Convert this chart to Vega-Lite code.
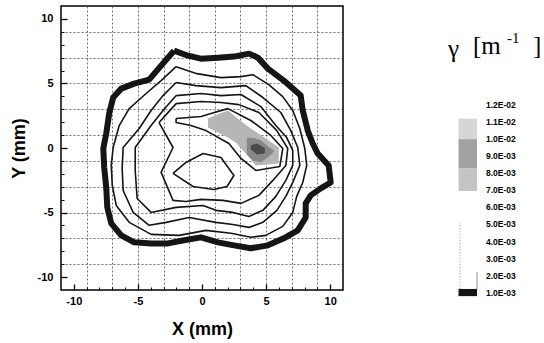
{
  "$schema": "https://vega.github.io/schema/vega-lite/v6.json",
  "background": "white",
  "padding": {"left": 9, "top": 5, "right": 0, "bottom": 0},
  "spacing": 102,
  "config": {"view": {"stroke": null}, "font": "Liberation Sans"},
  "resolve": {"scale": {"fill": "independent"}},
  "datasets": {
    "band": [
      {"i":0,"x":-2.18,"y":7.54},{"i":1,"x":-1.09,"y":7.15},{"i":2,"x":-0.08,"y":6.92},{"i":3,"x":1.25,"y":7.0},{"i":4,"x":2.49,"y":7.08},{"i":5,"x":3.66,"y":7.31},{"i":6,"x":4.36,"y":7.0},{"i":7,"x":5.14,"y":6.15},{"i":8,"x":6.38,"y":5.22},{"i":9,"x":7.7,"y":4.06},{"i":10,"x":7.86,"y":2.9},{"i":11,"x":8.25,"y":1.35},{"i":12,"x":8.64,"y":0.35},{"i":13,"x":9.03,"y":-0.43},{"i":14,"x":9.88,"y":-1.35},{"i":15,"x":10.04,"y":-2.67},{"i":16,"x":9.26,"y":-3.13},{"i":17,"x":8.48,"y":-3.67},{"i":18,"x":8.09,"y":-4.29},{"i":19,"x":8.09,"y":-5.38},{"i":20,"x":7.47,"y":-6.38},{"i":21,"x":6.38,"y":-7.0},{"i":22,"x":5.14,"y":-7.54},{"i":23,"x":3.81,"y":-7.77},{"i":24,"x":2.49,"y":-7.54},{"i":25,"x":1.25,"y":-7.31},{"i":26,"x":-0.08,"y":-6.92},{"i":27,"x":-1.4,"y":-7.15},{"i":28,"x":-2.65,"y":-7.39},{"i":29,"x":-3.97,"y":-7.39},{"i":30,"x":-5.29,"y":-7.31},{"i":31,"x":-6.3,"y":-6.77},{"i":32,"x":-7.08,"y":-5.84},{"i":33,"x":-7.39,"y":-4.6},{"i":34,"x":-7.47,"y":-3.05},{"i":35,"x":-7.63,"y":-1.51},{"i":36,"x":-7.7,"y":-0.04},{"i":37,"x":-7.47,"y":1.12},{"i":38,"x":-7.24,"y":2.67},{"i":39,"x":-6.93,"y":3.91},{"i":40,"x":-6.3,"y":4.6},{"i":41,"x":-5.29,"y":4.99},{"i":42,"x":-4.12,"y":5.3},{"i":43,"x":-3.19,"y":6.38},{"i":44,"x":-2.18,"y":7.54}
    ],
    "rings": [
      {"c":"r2","i":0,"x":-2.02,"y":6.3},{"c":"r2","i":1,"x":-0.39,"y":5.76},{"c":"r2","i":2,"x":1.48,"y":5.45},{"c":"r2","i":3,"x":3.04,"y":5.53},{"c":"r2","i":4,"x":3.97,"y":5.68},{"c":"r2","i":5,"x":5.21,"y":4.91},{"c":"r2","i":6,"x":6.3,"y":3.98},{"c":"r2","i":7,"x":7.08,"y":2.9},{"c":"r2","i":8,"x":7.63,"y":1.51},{"c":"r2","i":9,"x":8.02,"y":-0.04},{"c":"r2","i":10,"x":8.17,"y":-1.35},{"c":"r2","i":11,"x":7.86,"y":-2.67},{"c":"r2","i":12,"x":7.39,"y":-3.75},{"c":"r2","i":13,"x":7.08,"y":-4.99},{"c":"r2","i":14,"x":6.3,"y":-6.07},{"c":"r2","i":15,"x":4.98,"y":-6.77},{"c":"r2","i":16,"x":3.81,"y":-6.92},{"c":"r2","i":17,"x":2.26,"y":-6.61},{"c":"r2","i":18,"x":0.31,"y":-6.38},{"c":"r2","i":19,"x":-1.79,"y":-6.77},{"c":"r2","i":20,"x":-3.97,"y":-6.69},{"c":"r2","i":21,"x":-5.68,"y":-5.76},{"c":"r2","i":22,"x":-6.69,"y":-4.45},{"c":"r2","i":23,"x":-7.0,"y":-2.9},{"c":"r2","i":24,"x":-7.08,"y":-1.35},{"c":"r2","i":25,"x":-6.93,"y":0.04},{"c":"r2","i":26,"x":-6.46,"y":1.74},{"c":"r2","i":27,"x":-5.68,"y":3.05},{"c":"r2","i":28,"x":-4.36,"y":4.22},{"c":"r2","i":29,"x":-3.19,"y":5.22},{"c":"r2","i":30,"x":-2.02,"y":6.3},
      {"c":"r3","i":0,"x":-2.02,"y":5.07},{"c":"r3","i":1,"x":-0.47,"y":4.83},{"c":"r3","i":2,"x":1.48,"y":4.68},{"c":"r3","i":3,"x":3.42,"y":4.83},{"c":"r3","i":4,"x":4.75,"y":3.91},{"c":"r3","i":5,"x":6.15,"y":2.75},{"c":"r3","i":6,"x":6.93,"y":1.35},{"c":"r3","i":7,"x":7.47,"y":0.04},{"c":"r3","i":8,"x":7.63,"y":-1.35},{"c":"r3","i":9,"x":7.08,"y":-2.67},{"c":"r3","i":10,"x":6.54,"y":-3.75},{"c":"r3","i":11,"x":5.84,"y":-4.83},{"c":"r3","i":12,"x":4.75,"y":-5.76},{"c":"r3","i":13,"x":3.66,"y":-6.15},{"c":"r3","i":14,"x":2.41,"y":-5.92},{"c":"r3","i":15,"x":1.09,"y":-5.76},{"c":"r3","i":16,"x":-1.01,"y":-5.38},{"c":"r3","i":17,"x":-2.8,"y":-5.76},{"c":"r3","i":18,"x":-4.12,"y":-5.99},{"c":"r3","i":19,"x":-5.37,"y":-4.99},{"c":"r3","i":20,"x":-6.15,"y":-3.29},{"c":"r3","i":21,"x":-6.23,"y":-1.59},{"c":"r3","i":22,"x":-6.15,"y":0.04},{"c":"r3","i":23,"x":-4.9,"y":1.51},{"c":"r3","i":24,"x":-3.97,"y":2.9},{"c":"r3","i":25,"x":-3.04,"y":4.06},{"c":"r3","i":26,"x":-2.02,"y":5.07},
      {"c":"r4","i":0,"x":-2.02,"y":4.06},{"c":"r4","i":1,"x":-0.08,"y":4.22},{"c":"r4","i":2,"x":1.48,"y":4.06},{"c":"r4","i":3,"x":3.04,"y":4.14},{"c":"r4","i":4,"x":4.59,"y":3.21},{"c":"r4","i":5,"x":5.76,"y":1.74},{"c":"r4","i":6,"x":6.61,"y":0.81},{"c":"r4","i":7,"x":7.08,"y":-0.19},{"c":"r4","i":8,"x":7.08,"y":-1.35},{"c":"r4","i":9,"x":6.54,"y":-2.51},{"c":"r4","i":10,"x":5.76,"y":-3.75},{"c":"r4","i":11,"x":4.75,"y":-4.83},{"c":"r4","i":12,"x":3.66,"y":-5.3},{"c":"r4","i":13,"x":2.41,"y":-4.99},{"c":"r4","i":14,"x":1.09,"y":-4.83},{"c":"r4","i":15,"x":0.08,"y":-4.45},{"c":"r4","i":16,"x":-2.02,"y":-4.6},{"c":"r4","i":17,"x":-3.97,"y":-4.99},{"c":"r4","i":18,"x":-5.06,"y":-3.91},{"c":"r4","i":19,"x":-5.21,"y":-1.74},{"c":"r4","i":20,"x":-5.21,"y":0.04},{"c":"r4","i":21,"x":-3.97,"y":1.74},{"c":"r4","i":22,"x":-3.04,"y":2.9},{"c":"r4","i":23,"x":-2.02,"y":4.06},
      {"c":"r5","i":0,"x":-3.35,"y":1.97},{"c":"r5","i":1,"x":-2.02,"y":3.44},{"c":"r5","i":2,"x":-0.08,"y":3.6},{"c":"r5","i":3,"x":1.48,"y":3.52},{"c":"r5","i":4,"x":2.88,"y":3.36},{"c":"r5","i":5,"x":4.44,"y":2.75},{"c":"r5","i":6,"x":5.84,"y":1.35},{"c":"r5","i":7,"x":6.69,"y":-0.04},{"c":"r5","i":8,"x":6.54,"y":-1.35},{"c":"r5","i":9,"x":5.53,"y":-2.51},{"c":"r5","i":10,"x":4.44,"y":-3.67},{"c":"r5","i":11,"x":3.04,"y":-4.29},{"c":"r5","i":12,"x":1.63,"y":-4.06},{"c":"r5","i":13,"x":-0.08,"y":-3.98},{"c":"r5","i":14,"x":-1.25,"y":-4.14},{"c":"r5","i":15,"x":-2.26,"y":-4.06},{"c":"r5","i":16,"x":-3.19,"y":-1.89},{"c":"r5","i":17,"x":-2.26,"y":0.04},{"c":"r5","i":18,"x":-3.35,"y":1.97},
      {"c":"r6","i":0,"x":-2.02,"y":2.28},{"c":"r6","i":1,"x":-0.08,"y":2.44},{"c":"r6","i":2,"x":0.7,"y":2.67},{"c":"r6","i":3,"x":2.02,"y":3.05},{"c":"r6","i":4,"x":3.81,"y":2.13},{"c":"r6","i":5,"x":5.37,"y":0.97},{"c":"r6","i":6,"x":6.3,"y":-0.04},{"c":"r6","i":7,"x":6.07,"y":-1.43},{"c":"r6","i":8,"x":4.2,"y":-1.74},{"c":"r6","i":9,"x":3.04,"y":-0.81},{"c":"r6","i":10,"x":2.1,"y":0.35},{"c":"r6","i":11,"x":0.31,"y":1.35},{"c":"r6","i":12,"x":-0.86,"y":1.74},{"c":"r6","i":13,"x":-2.02,"y":1.97},{"c":"r6","i":14,"x":-2.02,"y":2.28},
      {"c":"lp","i":0,"x":-2.26,"y":-1.97},{"c":"lp","i":1,"x":-1.25,"y":-1.12},{"c":"lp","i":2,"x":0.08,"y":-0.43},{"c":"lp","i":3,"x":1.48,"y":-0.73},{"c":"lp","i":4,"x":2.49,"y":-2.13},{"c":"lp","i":5,"x":1.95,"y":-2.98},{"c":"lp","i":6,"x":0.93,"y":-3.21},{"c":"lp","i":7,"x":-0.7,"y":-2.98},{"c":"lp","i":8,"x":-2.26,"y":-1.97}
    ],
    "fills": [
      {"s":"a","x":0.47,"y":2.28,"y2":1.59},{"s":"a","x":1.09,"y":2.55,"y2":1.28},{"s":"a","x":2.02,"y":2.9,"y2":0.81},{"s":"a","x":2.65,"y":2.41,"y2":0.41},{"s":"a","x":3.58,"y":1.66,"y2":-0.61},{"s":"a","x":4.2,"y":1.25,"y2":-1.35},{"s":"a","x":5.06,"y":0.67,"y2":-1.28},{"s":"a","x":5.99,"y":0.04,"y2":-1.2},
      {"s":"b","x":3.5,"y":0.8,"y2":-0.5},{"s":"b","x":4.0,"y":0.8,"y2":-1.0},{"s":"b","x":4.6,"y":0.6,"y2":-1.1},{"s":"b","x":5.3,"y":0.0,"y2":-0.6},{"s":"b","x":5.6,"y":-0.15,"y2":-0.3},
      {"s":"c","x":3.8,"y":0.2,"y2":-0.1},{"s":"c","x":4.3,"y":0.35,"y2":-0.5},{"s":"c","x":4.9,"y":0.0,"y2":-0.4}
    ],
    "legsw": [
      {"lo":10.0,"hi":11.2,"s":"a"},{"lo":8.3,"hi":10.0,"s":"b"},{"lo":6.96,"hi":8.3,"s":"c"},{"lo":0.8,"hi":1.22,"s":"k"}
    ],
    "leglab": [
      {"v":12,"label":"1.2E-02"},{"v":11,"label":"1.1E-02"},{"v":10,"label":"1.0E-02"},{"v":9,"label":"9.0E-03"},{"v":8,"label":"8.0E-03"},{"v":7,"label":"7.0E-03"},{"v":6,"label":"6.0E-03"},{"v":5,"label":"5.0E-03"},{"v":4,"label":"4.0E-03"},{"v":3,"label":"3.0E-03"},{"v":2,"label":"2.0E-03"},{"v":1,"label":"1.0E-03"}
    ]
  },
  "hconcat": [
    {
      "width": 282,
      "height": 284,
      "view": {"stroke": "black", "strokeWidth": 1.5},
      "resolve": {"axis": {"x": "independent", "y": "independent"}},
      "layer": [
        {
          "data": {"name": "fills"},
          "mark": {"type": "area", "opacity": 1},
          "encoding": {
            "x": {"field": "x", "type": "quantitative", "scale": {"domain": [-11, 11], "nice": false, "zero": false},
                  "axis": {"orient": "bottom", "values": [-9,-7,-5,-3,-1,1,3,5,7,9], "grid": true, "gridColor": "#333", "gridDash": [2,2], "gridWidth": 0.7, "ticks": false, "labels": false, "domain": false, "title": null}},
            "y": {"field": "y", "type": "quantitative", "scale": {"domain": [-11, 11], "nice": false, "zero": false},
                  "axis": {"orient": "left", "values": [-9,-7,-5,-3,-1,1,3,5,7,9], "grid": true, "gridColor": "#333", "gridDash": [2,2], "gridWidth": 0.7, "ticks": false, "labels": false, "domain": false, "title": null}},
            "y2": {"field": "y2"},
            "fill": {"field": "s", "type": "nominal", "scale": {"domain": ["a","b","c"], "range": ["#b6b6b6","#888888","#4a4a4a"]}, "legend": null}
          }
        },
        {
          "data": {"name": "band"},
          "mark": {"type": "line", "color": "#151515", "strokeWidth": 6, "strokeJoin": "round"},
          "encoding": {
            "x": {"field": "x", "type": "quantitative", "scale": {"domain": [-11, 11], "nice": false, "zero": false},
                  "axis": {"orient": "bottom", "values": [-10,-9,-8,-7,-6,-5,-4,-3,-2,-1,0,1,2,3,4,5,6,7,8,9,10], "tickSize": -3, "tickColor": "black", "tickWidth": 1, "labels": false, "domain": false, "grid": false, "title": null}},
            "y": {"field": "y", "type": "quantitative", "scale": {"domain": [-11, 11], "nice": false, "zero": false},
                  "axis": {"orient": "left", "values": [-10,-9,-8,-7,-6,-5,-4,-3,-2,-1,0,1,2,3,4,5,6,7,8,9,10], "tickSize": -3, "tickColor": "black", "tickWidth": 1, "labels": false, "domain": false, "grid": false, "title": null}},
            "order": {"field": "i", "type": "quantitative"}
          }
        },
        {
          "data": {"name": "rings"},
          "mark": {"type": "line", "color": "#151515", "strokeWidth": 1.6, "strokeJoin": "round"},
          "encoding": {
            "x": {"field": "x", "type": "quantitative", "scale": {"domain": [-11, 11], "nice": false, "zero": false},
                  "axis": {"orient": "bottom", "values": [-10,-5,0,5,10], "tickSize": -6, "tickColor": "black", "tickWidth": 1.3, "domain": false, "grid": false,
                           "labelExpr": "datum.value < 0 ? '-' + (-datum.value) : '' + datum.value", "labelPadding": 11, "labelFont": "Liberation Sans", "labelFontSize": 11, "labelFontWeight": "bold", "labelColor": "black",
                           "title": "X (mm)", "titleFont": "Liberation Sans", "titleFontSize": 18, "titleFontWeight": "bold", "titleColor": "black", "titlePadding": 14}},
            "y": {"field": "y", "type": "quantitative", "scale": {"domain": [-11, 11], "nice": false, "zero": false},
                  "axis": {"orient": "left", "values": [-10,-5,0,5,10], "tickSize": -6, "tickColor": "black", "tickWidth": 1.3, "domain": false, "grid": false,
                           "labelExpr": "datum.value < 0 ? '-' + (-datum.value) : '' + datum.value", "labelPadding": 14, "labelFont": "Liberation Sans", "labelFontSize": 11, "labelFontWeight": "bold", "labelColor": "black",
                           "title": "Y (mm)", "titleFont": "Liberation Sans", "titleFontSize": 18, "titleFontWeight": "bold", "titleColor": "black", "titlePadding": 9}},
            "detail": {"field": "c", "type": "nominal"},
            "order": {"field": "i", "type": "quantitative"}
          }
        }
      ]
    },
    {
      "width": 90,
      "height": 300,
      "layer": [
        {
          "data": {"name": "legsw"},
          "mark": {"type": "rect"},
          "encoding": {
            "x": {"datum": 12.5, "type": "quantitative", "scale": {"domain": [0, 90], "nice": false, "zero": false}, "axis": null},
            "x2": {"datum": 31},
            "y": {"field": "lo", "type": "quantitative", "scale": {"domain": [0.221, 17.802], "nice": false, "zero": false}, "axis": null},
            "y2": {"field": "hi"},
            "fill": {"field": "s", "type": "nominal", "scale": {"domain": ["a","b","c","k"], "range": ["#d6d6d6","#a2a2a2","#c4c4c4","#151515"]}, "legend": null}
          }
        },
        {
          "data": {"values": [{"lo": 1.2, "hi": 5.1}]},
          "mark": {"type": "rule", "color": "#666", "strokeWidth": 0.8, "strokeDash": [1, 2]},
          "encoding": {
            "x": {"datum": 14, "type": "quantitative"},
            "y": {"field": "lo", "type": "quantitative"},
            "y2": {"field": "hi"}
          }
        },
        {
          "data": {"values": [{"lo": 1.2, "hi": 2.2}]},
          "mark": {"type": "rule", "color": "#777", "strokeWidth": 0.8},
          "encoding": {
            "x": {"datum": 31, "type": "quantitative"},
            "y": {"field": "lo", "type": "quantitative"},
            "y2": {"field": "hi"}
          }
        },
        {
          "data": {"name": "leglab"},
          "mark": {"type": "text", "align": "left", "baseline": "middle", "font": "Liberation Sans", "fontSize": 8.5, "fontWeight": "bold", "color": "black"},
          "encoding": {
            "x": {"datum": 40, "type": "quantitative"},
            "y": {"field": "v", "type": "quantitative"},
            "text": {"field": "label"}
          }
        },
        {
          "data": {"values": [{"t": "γ", "v": 15.3}]},
          "mark": {"type": "text", "align": "left", "baseline": "middle", "font": "Liberation Serif", "fontSize": 25, "color": "black"},
          "encoding": {
            "x": {"datum": 2, "type": "quantitative"},
            "y": {"field": "v", "type": "quantitative"},
            "text": {"field": "t"}
          }
        },
        {
          "data": {"values": [{"t": "[m", "v": 15.46}]},
          "mark": {"type": "text", "align": "left", "baseline": "middle", "font": "Liberation Serif", "fontSize": 25, "color": "black"},
          "encoding": {
            "x": {"datum": 27, "type": "quantitative"},
            "y": {"field": "v", "type": "quantitative"},
            "text": {"field": "t"}
          }
        },
        {
          "data": {"values": [{"t": "-1", "v": 15.95}]},
          "mark": {"type": "text", "align": "left", "baseline": "middle", "font": "Liberation Serif", "fontSize": 15, "color": "black"},
          "encoding": {
            "x": {"datum": 61, "type": "quantitative"},
            "y": {"field": "v", "type": "quantitative"},
            "text": {"field": "t"}
          }
        },
        {
          "data": {"values": [{"t": "]", "v": 15.46}]},
          "mark": {"type": "text", "align": "left", "baseline": "middle", "font": "Liberation Serif", "fontSize": 25, "color": "black"},
          "encoding": {
            "x": {"datum": 87, "type": "quantitative"},
            "y": {"field": "v", "type": "quantitative"},
            "text": {"field": "t"}
          }
        }
      ]
    }
  ]
}
